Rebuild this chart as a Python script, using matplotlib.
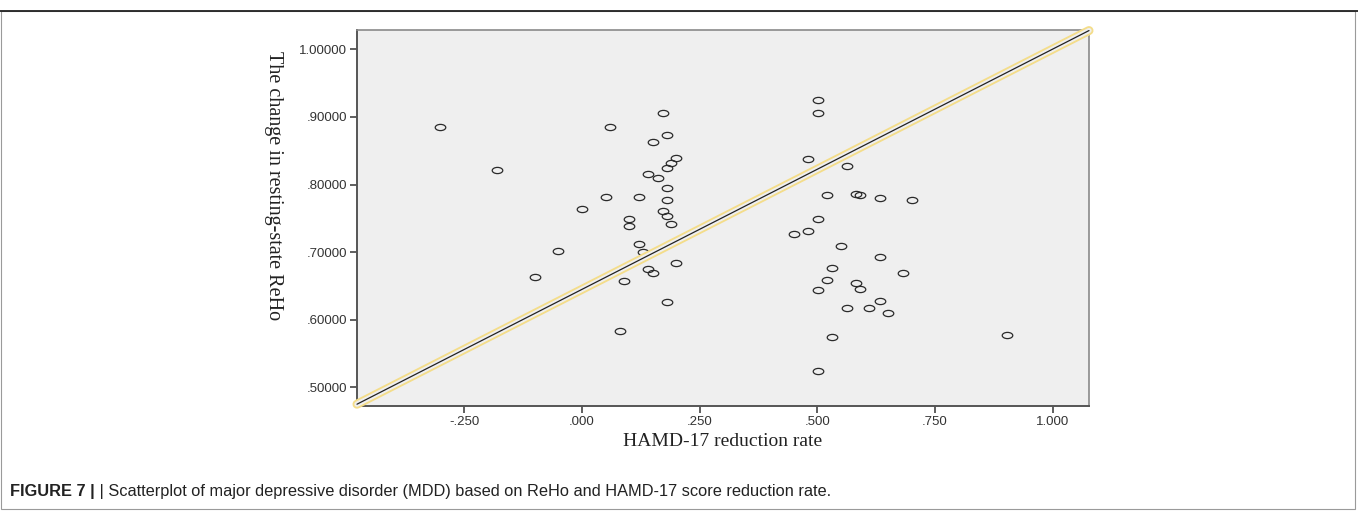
import matplotlib
matplotlib.use("Agg")
import matplotlib.pyplot as plt
import matplotlib.patheffects as pe
from matplotlib.path import Path
from matplotlib.patches import Rectangle
from matplotlib.lines import Line2D
import numpy as np

# ---- data ----
hamd_reduction = [-0.301, -0.181, 0.060, 0.051, 0.121, 0.000, 0.100, 0.100, -0.050, 0.121,
                  0.130, -0.100, 0.140, 0.151, 0.090, 0.081, 0.171, 0.181, 0.151, 0.200,
                  0.190, 0.181, 0.140, 0.161, 0.181, 0.181, 0.171, 0.181, 0.190, 0.200,
                  0.181, 0.501, 0.501, 0.481, 0.562, 0.521, 0.581, 0.591, 0.632, 0.701,
                  0.501, 0.481, 0.451, 0.551, 0.632, 0.531, 0.681, 0.521, 0.581, 0.591,
                  0.501, 0.632, 0.562, 0.610, 0.651, 0.531, 0.501, 0.902]
reho_change = [0.8855, 0.8214, 0.8846, 0.7815, 0.7822, 0.7638, 0.7490, 0.7386, 0.7016, 0.7127,
               0.7001, 0.6627, 0.6746, 0.6695, 0.6572, 0.5837, 0.9062, 0.8732, 0.8624, 0.8397,
               0.8314, 0.8244, 0.8151, 0.8096, 0.7953, 0.7775, 0.7611, 0.7530, 0.7416, 0.6834,
               0.6266, 0.9254, 0.9053, 0.8382, 0.8274, 0.7845, 0.7864, 0.7840, 0.7796, 0.7771,
               0.7494, 0.7317, 0.7268, 0.7090, 0.6932, 0.6769, 0.6695, 0.6592, 0.6543, 0.6459,
               0.6439, 0.6277, 0.6178, 0.6178, 0.6104, 0.5744, 0.5246, 0.5769]
fit_intercept = 0.645
fit_slope = 0.3553

x_ticks = [-0.25, 0.0, 0.25, 0.5, 0.75, 1.0]
x_ticklabels = ["-.250", ".000", ".250", ".500", ".750", "1.000"]
y_ticks = [0.5, 0.6, 0.7, 0.8, 0.9, 1.0]
y_ticklabels = [".50000", ".60000", ".70000", ".80000", ".90000", "1.00000"]

x_label = "HAMD-17 reduction rate"
y_label = "The change in resting-state ReHo"
caption_bold = "FIGURE 7 |"
caption_text = " | Scatterplot of major depressive disorder (MDD) based on ReHo and HAMD-17 score reduction rate."

# ---- figure ----
W, H = 1358, 511
fig = plt.figure(figsize=(W / 100, H / 100), dpi=100)
fig.patch.set_facecolor("white")

# outer frame
fig.add_artist(Rectangle((1 / W, 1 - 509 / H), 1354 / W, 498 / H, transform=fig.transFigure,
                         fill=False, edgecolor="#9a9a9a", linewidth=0.8))
fig.add_artist(Line2D([0, 1], [1 - 11 / H, 1 - 11 / H], transform=fig.transFigure,
                      color="#222222", linewidth=1.3))

ax = fig.add_axes([357 / W, 1 - 406 / H, (1089 - 357) / W, (406 - 30) / H])
ax.set_facecolor("#efefef")
ax.set_xlim(-0.478, 1.077)
ax.set_ylim(0.4725, 1.0285)

# ellipse marker (the reference is horizontally stretched)
circ = Path.unit_circle()
ell = Path(circ.vertices * np.array([1.7, 1.0]), circ.codes)
ax.plot(hamd_reduction, reho_change, linestyle="none", marker=ell, markersize=7.6,
        markerfacecolor="none", markeredgecolor="#2a2a2a", markeredgewidth=0.9, zorder=3)

# fit line
xl = np.array(ax.get_xlim())
ax.plot(xl, fit_intercept + fit_slope * xl, color="#222222", linewidth=0.9,
        solid_capstyle="round", clip_on=False, zorder=4,
        path_effects=[pe.Stroke(linewidth=6.5, foreground="#f4dd8a", capstyle="round"),
                      pe.Stroke(linewidth=3.8, foreground="#efefef", capstyle="round"),
                      pe.Normal()])

ax.set_xticks(x_ticks)
ax.set_xticklabels(x_ticklabels)
ax.set_yticks(y_ticks)
ax.set_yticklabels(y_ticklabels)
for lab in ax.get_xticklabels() + ax.get_yticklabels():
    lab.set_family(["Liberation Sans", "DejaVu Sans"])
    lab.set_fontsize(9.5)
    lab.set_color("#333333")
ax.tick_params(direction="out", length=5, width=1.2, color="#444444", pad=2)

for side in ["left", "bottom"]:
    ax.spines[side].set_color("#555555")
    ax.spines[side].set_linewidth(1.4)
for side in ["top", "right"]:
    ax.spines[side].set_color("#8a8a8a")
    ax.spines[side].set_linewidth(1.2)

fig.text(273 / W, 1 - 186 / H, y_label, rotation=270, ha="center", va="center",
         family=["Liberation Serif", "DejaVu Serif"], fontsize=14.5, color="#222222")
fig.text(723 / W, 1 - 441 / H, x_label, ha="center", va="center",
         family=["Liberation Serif", "DejaVu Serif"], fontsize=14, color="#222222")

t1 = fig.text(10 / W, 1 - 491 / H, caption_bold, ha="left", va="center",
              family=["Liberation Sans", "DejaVu Sans"], fontweight="bold",
              fontsize=11.8, color="#222222")
fig.canvas.draw()
bb = t1.get_window_extent(renderer=fig.canvas.get_renderer())
fig.text(bb.x1 / W, 1 - 491 / H, caption_text, ha="left", va="center",
         family=["Liberation Sans", "DejaVu Sans"],
         fontsize=11.8, color="#222222")

fig.savefig("out.png", dpi=100)
